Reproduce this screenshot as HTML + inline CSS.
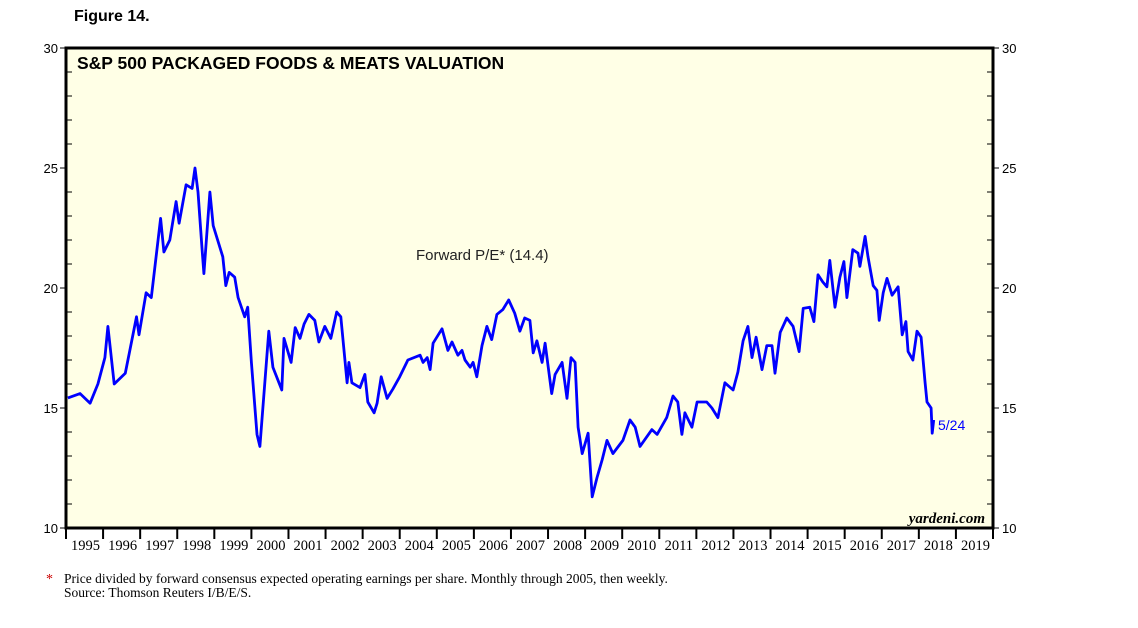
<!DOCTYPE html>
<html><head><meta charset="utf-8"><style>
body{margin:0;background:#fff;}
svg{display:block;}
</style></head><body>
<svg width="1138" height="628" xmlns="http://www.w3.org/2000/svg" id="chart">
<text x="74" y="21" font-family="Liberation Sans, sans-serif" font-size="16" font-weight="bold">Figure 14.</text>
<rect x="66" y="48" width="927" height="480" fill="#ffffe6" stroke="#000" stroke-width="3"/>
<text x="77" y="69" font-family="Liberation Sans, sans-serif" font-size="17.5" font-weight="bold">S&amp;P 500 PACKAGED FOODS &amp; MEATS VALUATION</text>
<text x="416" y="260" font-family="Liberation Sans, sans-serif" font-size="15" fill="#222">Forward P/E* (14.4)</text>
<text x="985" y="523" text-anchor="end" font-family="Liberation Serif, serif" font-size="15" font-style="italic" font-weight="bold">yardeni.com</text>
<g id="axes"></g>
<g id="series"></g>
<text x="938" y="430" font-family="Liberation Sans, sans-serif" font-size="14" fill="#0000ff">5/24</text>
<text x="46" y="583" font-family="Liberation Serif, serif" font-size="14" fill="#c00">*</text>
<text x="64" y="583" font-family="Liberation Serif, serif" font-size="13.5">Price divided by forward consensus expected operating earnings per share. Monthly through 2005, then weekly.</text>
<text x="64" y="597" font-family="Liberation Serif, serif" font-size="13.5">Source: Thomson Reuters I/B/E/S.</text>
</svg>
<script>
const yTicks=[10,15,20,25,30];
const years=[1995,1996,1997,1998,1999,2000,2001,2002,2003,2004,2005,2006,2007,2008,2009,2010,2011,2012,2013,2014,2015,2016,2017,2018,2019];
const dates=[1995.05,1995.38,1995.65,1995.86,1996.05,1996.13,1996.3,1996.6,1996.9,1996.97,1997.16,1997.3,1997.55,1997.64,1997.8,1997.97,1998.05,1998.24,1998.4,1998.48,1998.56,1998.67,1998.72,1998.88,1998.97,1999.23,1999.31,1999.4,1999.55,1999.64,1999.82,1999.9,2000.0,2000.15,2000.23,2000.47,2000.58,2000.82,2000.88,2001.07,2001.18,2001.31,2001.42,2001.55,2001.71,2001.82,2001.98,2002.14,2002.3,2002.41,2002.58,2002.63,2002.71,2002.93,2003.06,2003.14,2003.31,2003.39,2003.5,2003.66,2003.82,2004.0,2004.22,2004.55,2004.63,2004.74,2004.82,2004.9,2005.14,2005.3,2005.41,2005.57,2005.68,2005.76,2005.9,2005.98,2006.08,2006.22,2006.35,2006.48,2006.62,2006.78,2006.94,2007.1,2007.24,2007.37,2007.51,2007.6,2007.7,2007.84,2007.92,2008.1,2008.19,2008.38,2008.51,2008.62,2008.73,2008.81,2008.92,2009.08,2009.19,2009.32,2009.46,2009.59,2009.75,2010.02,2010.21,2010.35,2010.48,2010.8,2010.94,2011.2,2011.37,2011.5,2011.61,2011.69,2011.88,2012.02,2012.28,2012.42,2012.58,2012.77,2012.99,2013.12,2013.26,2013.39,2013.5,2013.61,2013.77,2013.9,2014.04,2014.12,2014.26,2014.44,2014.61,2014.77,2014.88,2015.06,2015.17,2015.28,2015.41,2015.52,2015.6,2015.74,2015.87,2015.98,2016.06,2016.22,2016.36,2016.41,2016.55,2016.63,2016.77,2016.87,2016.93,2017.04,2017.14,2017.28,2017.44,2017.55,2017.65,2017.71,2017.84,2017.95,2018.06,2018.17,2018.22,2018.33,2018.36,2018.4];
const values=[15.42,15.6,15.2,16.0,17.1,18.4,16.0,16.45,18.8,18.05,19.8,19.6,22.9,21.5,22.0,23.6,22.7,24.3,24.15,25.0,24.0,21.6,20.6,24.0,22.6,21.3,20.1,20.65,20.45,19.6,18.8,19.2,16.9,13.9,13.4,18.2,16.7,15.75,17.9,16.9,18.35,17.9,18.5,18.9,18.65,17.75,18.4,17.9,19.0,18.8,16.05,16.9,16.05,15.85,16.4,15.25,14.8,15.2,16.3,15.4,15.8,16.3,17.0,17.2,16.9,17.1,16.6,17.7,18.3,17.4,17.75,17.2,17.4,17.0,16.7,16.9,16.3,17.6,18.4,17.85,18.9,19.1,19.5,18.95,18.2,18.75,18.65,17.3,17.8,16.9,17.7,15.6,16.4,16.9,15.4,17.1,16.9,14.2,13.1,13.95,11.3,12.1,12.85,13.65,13.1,13.65,14.5,14.2,13.4,14.1,13.9,14.6,15.5,15.25,13.9,14.8,14.2,15.25,15.25,15.0,14.6,16.05,15.75,16.5,17.8,18.4,17.1,17.95,16.6,17.6,17.6,16.45,18.15,18.75,18.4,17.35,19.15,19.2,18.6,20.55,20.25,20.05,21.15,19.2,20.45,21.1,19.6,21.6,21.45,20.9,22.15,21.3,20.1,19.9,18.65,19.8,20.4,19.7,20.05,18.05,18.6,17.35,17.0,18.2,17.95,16.05,15.25,15.0,13.95,14.5];
const NS="http://www.w3.org/2000/svg";
const X0=66,X1=993,Y0=48,Y1=528;
function xs(t){return X0+(t-1995)/(2020-1995)*(X1-X0);}
function ys(v){return Y1-(v-10)/(30-10)*(Y1-Y0);}
const axes=document.getElementById('axes');
function mk(tag,attrs,parent){const e=document.createElementNS(NS,tag);for(const k in attrs)e.setAttribute(k,attrs[k]);parent.appendChild(e);return e;}
for(let v=10;v<=30;v++){
  const major=v%5===0;
  const y=ys(v);
  const l=mk('line',{x1:X0-(major?6:0),x2:X0+(major?0:6),y1:y,y2:y,stroke:'#000','stroke-width':1},axes);
  
  
  const r=mk('line',{x1:X1-(major?0:6),x2:X1+(major?6:0),y1:y,y2:y,stroke:'#000','stroke-width':1},axes);
  
  
}
yTicks.forEach(v=>{
  const t=mk('text',{x:X0-8,y:ys(v)+5,'text-anchor':'end','font-family':'Liberation Sans, sans-serif','font-size':13},axes);
  t.textContent=v;
  
  
  const t2=mk('text',{x:X1+9,y:ys(v)+5,'font-family':'Liberation Sans, sans-serif','font-size':13},axes);
  t2.textContent=v;
  
  
});
years.forEach(yr=>{
  const x=xs(yr);
  const tk=mk('line',{x1:x,x2:x,y1:Y1,y2:Y1+11,stroke:'#000','stroke-width':2},axes);
  
  
  const t=mk('text',{x:(x+xs(yr+1))/2+1,y:Y1+22,'text-anchor':'middle','font-family':'Liberation Serif, serif','font-size':14.5},axes);
  t.textContent=yr;
  
  
});
const endTk=mk('line',{x1:X1,x2:X1,y1:Y1,y2:Y1+11,stroke:'#000','stroke-width':2},axes);


const pts=dates.map((d,i)=>xs(d).toFixed(1)+','+ys(values[i]).toFixed(1)).join(' ');
const line=mk('polyline',{points:pts,fill:'none',stroke:'#0000ff','stroke-width':2.8,'stroke-linejoin':'round'},document.getElementById('series'));


</script>
</body></html>
